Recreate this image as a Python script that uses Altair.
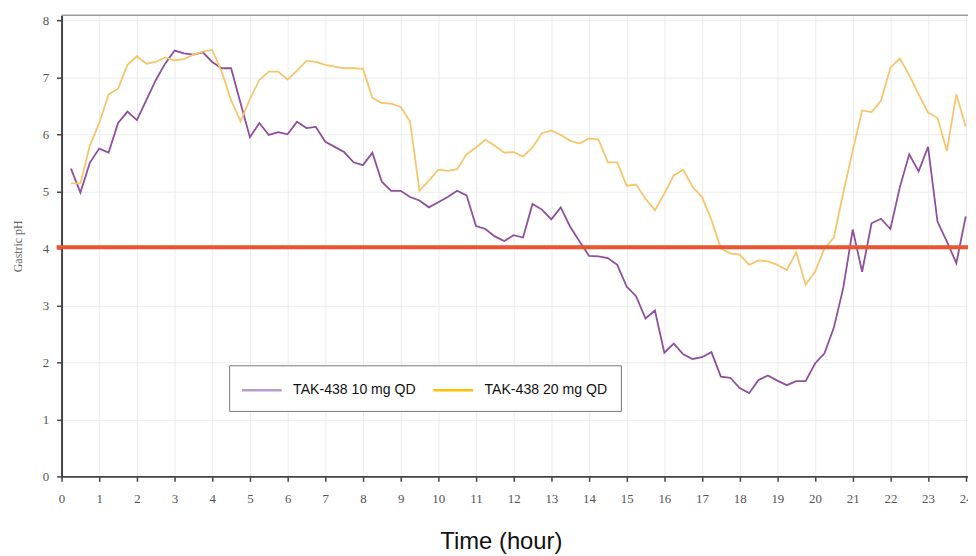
import altair as alt
import pandas as pd

# ---- data ----
time_h = [0.25, 0.5, 0.75, 1.0, 1.25, 1.5, 1.75, 2.0, 2.25, 2.5, 2.75, 3.0,
          3.25, 3.5, 3.75, 4.0, 4.25, 4.5, 4.75, 5.0, 5.25, 5.5, 5.75, 6.0,
          6.25, 6.5, 6.75, 7.0, 7.25, 7.5, 7.75, 8.0, 8.25, 8.5, 8.75, 9.0,
          9.25, 9.5, 9.75, 10.0, 10.25, 10.5, 10.75, 11.0, 11.25, 11.5, 11.75, 12.0,
          12.25, 12.5, 12.75, 13.0, 13.25, 13.5, 13.75, 14.0, 14.25, 14.5, 14.75, 15.0,
          15.25, 15.5, 15.75, 16.0, 16.25, 16.5, 16.75, 17.0, 17.25, 17.5, 17.75, 18.0,
          18.25, 18.5, 18.75, 19.0, 19.25, 19.5, 19.75, 20.0, 20.25, 20.5, 20.75, 21.0,
          21.25, 21.5, 21.75, 22.0, 22.25, 22.5, 22.75, 23.0, 23.25, 23.5, 23.75, 24.0]

ph_10mg = [5.40, 4.98, 5.50, 5.75, 5.68, 6.20, 6.40, 6.25, 6.60, 6.95, 7.24, 7.47,
           7.42, 7.40, 7.44, 7.27, 7.16, 7.16, 6.55, 5.95, 6.20, 5.99, 6.04, 6.00,
           6.22, 6.11, 6.13, 5.87, 5.78, 5.69, 5.51, 5.46, 5.68, 5.17, 5.01, 5.01,
           4.90, 4.84, 4.72, 4.81, 4.90, 5.01, 4.93, 4.39, 4.34, 4.21, 4.13, 4.23,
           4.19, 4.78, 4.68, 4.51, 4.72, 4.38, 4.12, 3.87, 3.86, 3.83, 3.71, 3.33,
           3.16, 2.77, 2.91, 2.17, 2.33, 2.14, 2.06, 2.09, 2.18, 1.75, 1.73, 1.55,
           1.46, 1.69, 1.77, 1.68, 1.60, 1.67, 1.67, 1.98, 2.16, 2.61, 3.31, 4.33,
           3.59, 4.44, 4.52, 4.34, 5.07, 5.65, 5.35, 5.78, 4.47, 4.12, 3.74, 4.56]

ph_20mg = [5.14, 5.14, 5.80, 6.20, 6.70, 6.80, 7.22, 7.37, 7.24, 7.27, 7.35, 7.30,
           7.32, 7.40, 7.45, 7.48, 7.10, 6.60, 6.23, 6.62, 6.95, 7.10, 7.10, 6.96,
           7.12, 7.29, 7.27, 7.22, 7.19, 7.16, 7.16, 7.15, 6.64, 6.55, 6.54, 6.48,
           6.23, 5.01, 5.19, 5.38, 5.36, 5.39, 5.65, 5.77, 5.91, 5.80, 5.68, 5.69,
           5.61, 5.77, 6.02, 6.07, 5.99, 5.89, 5.84, 5.93, 5.91, 5.51, 5.51, 5.10,
           5.12, 4.87, 4.67, 4.96, 5.28, 5.38, 5.08, 4.90, 4.50, 4.00, 3.91, 3.89,
           3.71, 3.79, 3.77, 3.71, 3.62, 3.93, 3.36, 3.59, 4.00, 4.19, 4.98, 5.71,
           6.42, 6.39, 6.59, 7.17, 7.33, 7.04, 6.70, 6.38, 6.29, 5.71, 6.70, 6.14]

series_names = ["TAK-438 10 mg QD", "TAK-438 20 mg QD"]
x_ticks = [0, 1, 2, 3, 4, 5, 6, 7, 8, 9, 10, 11, 12, 13, 14, 15, 16, 17, 18, 19, 20, 21, 22, 23, 24]
y_ticks = [0, 1, 2, 3, 4, 5, 6, 7, 8]
threshold_ph = [4.02]

# ---- styling ----
line_colors = ["#8E4F9E", "#F6C56C"]
legend_colors = ["#B49ECB", "#FFC000"]
W, H = 914, 465

rows = []
for t, a, b in zip(time_h, ph_10mg, ph_20mg):
    rows.append({"time": t, "ph": a, "series": series_names[0]})
    rows.append({"time": t, "ph": b, "series": series_names[1]})
df = pd.DataFrame(rows)
df["legend_series"] = df["series"]
thr_df = pd.DataFrame({"ph": threshold_ph})

x_enc = alt.X(
    "time:Q",
    scale=alt.Scale(domain=[0, 24.06], nice=False, zero=False),
    axis=alt.Axis(values=x_ticks, format="d", labelFlush=False, labelPadding=11,
                  title="Time (hour)", titleFont="Liberation Sans", titleFontSize=24,
                  titleFontWeight="normal", titleColor="#111", titleX=443, titleY=73,
                  titleAlign="center", titleBaseline="alphabetic"),
)
y_enc = alt.Y(
    "ph:Q",
    scale=alt.Scale(domain=[0, 8.09], nice=False),
    axis=alt.Axis(values=y_ticks, format="d", labelPadding=8,
                  title="Gastric pH", titleFont="Liberation Serif", titleFontSize=12,
                  titleFontWeight="normal", titleColor="#666", titleX=-44, titleY=H / 2,
                  titleAngle=270, titleAlign="center", titleBaseline="middle"),
)

base = alt.Chart(df).encode(x=x_enc, y=y_enc)

lines = base.mark_line(strokeWidth=1.8).encode(
    color=alt.Color("series:N", scale=alt.Scale(domain=series_names, range=line_colors), legend=None)
)

legend_layer = base.mark_line(opacity=0).encode(
    color=alt.Color(
        "legend_series:N",
        scale=alt.Scale(domain=series_names, range=legend_colors),
        legend=alt.Legend(
            title=None, orient="none", legendX=169, legendY=353, direction="horizontal",
            symbolType="M-2,0H2", symbolSize=400, symbolStrokeWidth=2.5, symbolOpacity=1,
            symbolOffset=8, labelOffset=20, columnPadding=12, padding=13.5,
            labelFont="Liberation Sans", labelFontSize=14.2, labelColor="#111",
            strokeColor="#777", fillColor="white",
        ),
    )
)

threshold = alt.Chart(thr_df).mark_rule(color="#E9552F", strokeWidth=4).encode(
    y=y_enc, x=alt.value(-5), x2=alt.value(W)
)

frame_top = alt.Chart(thr_df).mark_rule(color="#999999", strokeWidth=1.5).encode(
    y=alt.value(0), x=alt.value(0), x2=alt.value(W)
)

chart = (
    alt.layer(frame_top, lines, legend_layer, threshold)
    .resolve_scale(color="independent")
    .properties(
        width=W, height=H,
        autosize=alt.AutoSizeParams(type="none"),
        padding={"left": 54, "top": 5, "right": 0, "bottom": 78},
    )
    .configure_view(stroke=None)
    .configure_axis(
        grid=True, gridColor="#ececec", gridWidth=1,
        domainColor="#444444", domainWidth=2,
        tickColor="#444444", tickWidth=1.5, tickSize=5,
        labelFont="Liberation Serif", labelFontSize=13, labelColor="#555555",
    )
)

chart.save("out.html", embed_options={"renderer": "svg", "actions": False})
